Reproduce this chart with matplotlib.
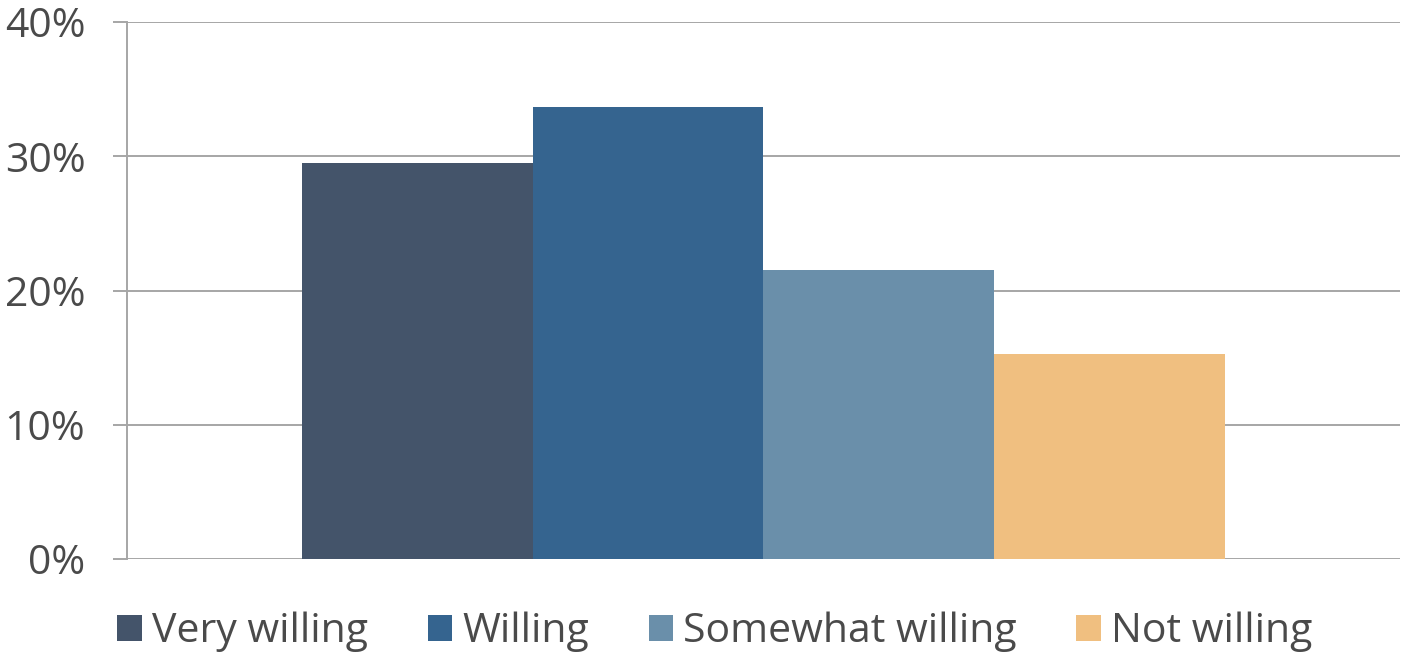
import matplotlib
matplotlib.use('Agg')
import matplotlib.pyplot as plt
from matplotlib.ticker import PercentFormatter

plt.rcParams['font.family'] = ['Open Sans', 'DejaVu Sans']

# data
categories = ['Very willing', 'Willing', 'Somewhat willing', 'Not willing']
shares = [29.5, 33.7, 21.5, 15.3]
colors = ['#44546a', '#35648f', '#6a8faa', '#f0bf80']

TEXT = '#4a4a4a'
GRID = '#a6a6a6'

fig = plt.figure(figsize=(14.03, 6.57), dpi=100)
ax = fig.add_axes([127 / 1403, 1 - 559 / 657, 1273 / 1403, 537 / 657])

xs = range(len(categories))
for x, v, c, lab in zip(xs, shares, colors, categories):
    ax.bar(x, v, width=1.0, color=c, label=lab, zorder=3)

ax.set_ylim(0, 40)
ax.set_xlim(-1.258, 4.26)
ax.set_yticks([0, 10, 20, 30, 40])
ax.yaxis.set_major_formatter(PercentFormatter(decimals=0))
ax.set_xticks([])

ax.grid(axis='y', color=GRID, lw=1.4, zorder=0)
for s in ['top', 'right', 'bottom']:
    ax.spines[s].set_visible(False)
ax.spines['left'].set_color(GRID)
ax.spines['left'].set_linewidth(1.4)
ax.tick_params(axis='y', length=10, width=1.4, color=GRID, pad=20,
               labelsize=29.5, labelcolor=TEXT)

fig.legend(loc='center', bbox_to_anchor=(715 / 1403, 1 - 632 / 657), ncol=4,
           frameon=False, fontsize=29.5, handlelength=0.6, handleheight=0.6,
           handletextpad=0.25, columnspacing=1.45, labelcolor=TEXT)

fig.savefig('out.png', dpi=100, facecolor='white')
